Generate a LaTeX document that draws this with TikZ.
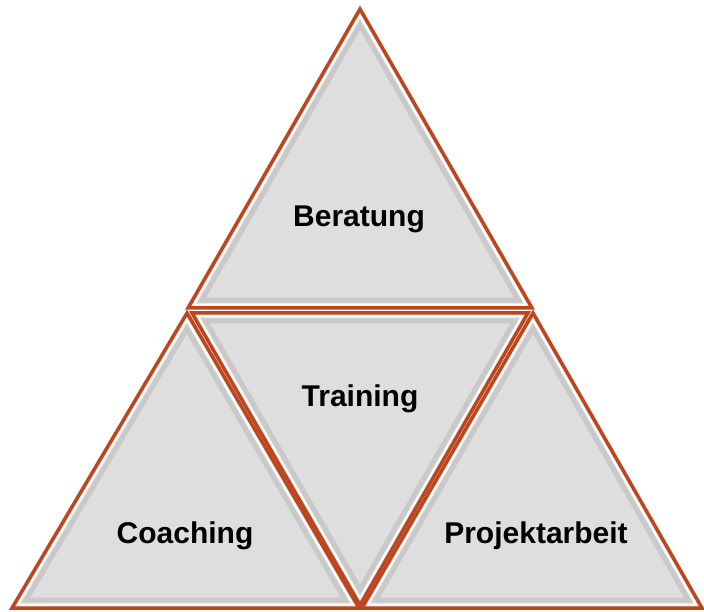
\documentclass[tikz,border=0pt]{standalone}
\usepackage{fontspec}
\setmainfont{Liberation Sans}
\usetikzlibrary{calc}
\definecolor{edgecol}{RGB}{190,70,30}
\definecolor{facecol}{RGB}{222,222,222}
\tikzset{
  lbl/.style={font=\bfseries\fontsize{30}{33}\selectfont, text=black, inner sep=0pt}
}
\newcommand\mytri[4]{%
  \coordinate (#1a) at #2; \coordinate (#1b) at #3; \coordinate (#1c) at #4;
  \coordinate (#1g) at ($(#1a)!2/3!($(#1b)!0.5!(#1c)$)$);
  \fill[facecol] (#1a)--(#1b)--(#1c)--cycle;
  \draw[black!45,line width=5pt,opacity=0.25,line join=miter]
    ($(#1g)!0.92!(#1a)$)--($(#1g)!0.92!(#1b)$)--($(#1g)!0.92!(#1c)$)--cycle;
  \draw[white,line width=2pt,line join=miter]
    ($(#1g)!0.965!(#1a)$)--($(#1g)!0.965!(#1b)$)--($(#1g)!0.965!(#1c)$)--cycle;
  \draw[edgecol,line width=3.5pt,line join=miter]
    (#1a)--(#1b)--(#1c)--cycle;
}
\begin{document}
\begin{tikzpicture}[x=1pt,y=-1pt]
\useasboundingbox (0,0) rectangle (704,612);
\fill[white] (0,0) rectangle (704,612);
\mytri{t}{(360,9)}{(188,308)}{(532,308)}
\mytri{l}{(187,313)}{(12,608)}{(359,608)}
\mytri{m}{(192,313)}{(528,313)}{(360,605)}
\mytri{r}{(533,313)}{(362,608)}{(702,608)}
\node[lbl] (beratung) at (359,219) {Beratung};
\node[lbl] (training) at (360,399) {Training};
\node[lbl] (coaching) at (185,536) {Coaching};
\node[lbl] (projekt) at (536,536) {Projektarbeit};
\end{tikzpicture}
\end{document}
